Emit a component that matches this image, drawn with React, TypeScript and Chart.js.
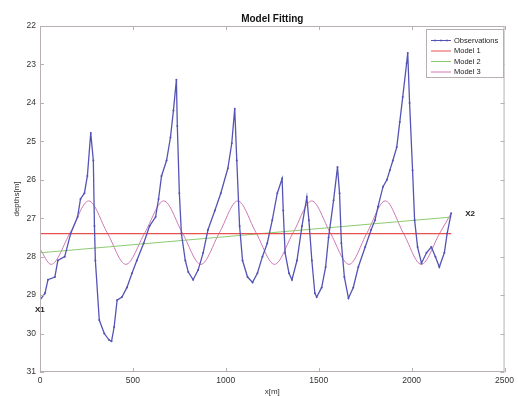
import React, { useEffect, useRef } from "react";
import { Chart, registerables } from "chart.js";

Chart.register(...registerables);

// ---- Data ----
const obsX = [0, 27, 43, 80, 96, 133, 165, 202, 218, 239, 255, 273, 287, 293, 298, 319, 346, 372, 385, 399, 415, 441, 468, 495, 521, 558, 590, 622, 638, 654, 681, 702, 718, 734, 739, 750, 761, 782, 798, 824, 851, 878, 904, 941, 973, 1011, 1032, 1048, 1059, 1074, 1090, 1117, 1144, 1170, 1197, 1223, 1250, 1277, 1303, 1309, 1319, 1340, 1356, 1383, 1410, 1436, 1447, 1463, 1479, 1489, 1516, 1537, 1553, 1580, 1601, 1612, 1622, 1638, 1660, 1686, 1713, 1750, 1782, 1803, 1819, 1846, 1867, 1883, 1899, 1920, 1936, 1952, 1973, 1979, 1989, 2005, 2016, 2032, 2053, 2080, 2106, 2128, 2149, 2176, 2191, 2213];
const obsY = [29.13, 28.95, 28.6, 28.53, 28.1, 28.0, 27.4, 26.97, 26.5, 26.35, 25.9, 24.78, 25.5, 27.2, 28.1, 29.65, 30.0, 30.17, 30.2, 29.83, 29.13, 29.05, 28.8, 28.43, 28.1, 27.65, 27.2, 26.97, 26.5, 25.9, 25.5, 24.9, 24.2, 23.4, 24.6, 26.35, 27.4, 28.1, 28.4, 28.6, 28.35, 27.9, 27.3, 26.8, 26.35, 25.7, 25.05, 24.15, 25.5, 27.2, 28.1, 28.53, 28.67, 28.43, 28.0, 27.65, 27.05, 26.35, 25.97, 26.8, 27.9, 28.43, 28.6, 28.1, 27.2, 26.45, 27.05, 28.1, 28.95, 29.05, 28.8, 28.27, 27.5, 26.53, 25.67, 26.35, 27.65, 28.53, 29.08, 28.8, 28.27, 27.75, 27.3, 27.05, 26.7, 26.18, 26.0, 25.75, 25.5, 25.15, 24.5, 23.85, 22.97, 22.7, 24.0, 25.75, 27.05, 27.75, 28.17, 27.9, 27.75, 28.0, 28.27, 27.9, 27.4, 26.87];

const model1X = [0, 2213];
const model1Y = [27.4, 27.4];

const model2X = [0, 2213];
const model2Y = [27.9, 26.97];

const model3X = [0, 60, 162, 262, 362, 462, 564, 666, 766, 866, 965, 1064, 1163, 1262, 1362, 1462, 1562, 1663, 1760, 1858, 1955, 2052, 2150, 2213];
const model3Y = [27.8, 28.2, 27.38, 26.55, 27.38, 28.2, 27.38, 26.55, 27.38, 28.2, 27.38, 26.55, 27.38, 28.2, 27.38, 26.55, 27.38, 28.2, 27.38, 26.55, 27.38, 28.2, 27.4, 26.87];

const seriesNames = ["Observations", "Model 1", "Model 2", "Model 3"];
const xTicks = [0, 500, 1000, 1500, 2000, 2500];
const yTicks = [22, 23, 24, 25, 26, 27, 28, 29, 30, 31];

const markerLabels = ["X1", "X2"];
const markerX = [0, 2213];
const markerY = [29.13, 26.87];

const chartTitle = "Model Fitting";
const xTitle = "x[m]";
const yTitle = "depths[m]";

const toPts = (xs: number[], ys: number[]) => xs.map((x, i) => ({ x, y: ys[i] }));

const FONT = "'Liberation Sans', Arial, sans-serif";

const decorPlugin = {
  id: "decor",
  afterDraw(chart: any) {
    const { ctx, chartArea, scales } = chart;
    const { left, right, top, bottom } = chartArea;
    ctx.save();
    // box
    ctx.strokeStyle = "#b8b0b0";
    ctx.lineWidth = 1;
    ctx.strokeRect(left + 0.5, top + 0.5, right - left - 1, bottom - top - 1);
    // inward ticks
    const tl = 4;
    ctx.beginPath();
    xTicks.forEach((v) => {
      const px = Math.round(scales.x.getPixelForValue(v)) + 0.5;
      ctx.moveTo(px, bottom);
      ctx.lineTo(px, bottom - tl);
      ctx.moveTo(px, top);
      ctx.lineTo(px, top + tl);
    });
    yTicks.forEach((v) => {
      const py = Math.round(scales.y.getPixelForValue(v)) + 0.5;
      ctx.moveTo(left, py);
      ctx.lineTo(left + tl, py);
      ctx.moveTo(right, py);
      ctx.lineTo(right - tl, py);
    });
    ctx.stroke();

    // title
    ctx.fillStyle = "#111";
    ctx.font = `bold 10px ${FONT}`;
    ctx.textAlign = "center";
    ctx.textBaseline = "middle";
    ctx.fillText(chartTitle, (left + right) / 2, 19);

    // axis titles
    ctx.font = `8px ${FONT}`;
    ctx.fillStyle = "#333";
    ctx.fillText(xTitle, (left + right) / 2, 392);
    ctx.save();
    ctx.translate(17, (top + bottom) / 2);
    ctx.rotate(-Math.PI / 2);
    ctx.fillText(yTitle, 0, 0);
    ctx.restore();

    // point labels
    ctx.font = `bold 8px ${FONT}`;
    ctx.fillStyle = "#222";
    markerLabels.forEach((t, i) => {
      const px = scales.x.getPixelForValue(markerX[i]);
      const py = scales.y.getPixelForValue(markerY[i]);
      ctx.textAlign = "left";
      if (i === 0) {
        ctx.fillText(t, px - 5, py + 10);
      } else {
        ctx.fillText(t, px + 14, py + 1);
      }
    });

    // legend
    const lx = 426, ly = 29, lw = 77, lh = 48;
    ctx.fillStyle = "#fff";
    ctx.fillRect(lx, ly, lw, lh);
    ctx.strokeStyle = "#b8b0b0";
    ctx.strokeRect(lx + 0.5, ly + 0.5, lw, lh);
    ctx.font = `7.5px ${FONT}`;
    ctx.textAlign = "left";
    chart.data.datasets.forEach((ds: any, i: number) => {
      const y = ly + 11 + i * 10.5;
      ctx.strokeStyle = ds.borderColor;
      ctx.lineWidth = 1;
      ctx.beginPath();
      ctx.moveTo(lx + 5, y + 0.5);
      ctx.lineTo(lx + 25, y + 0.5);
      ctx.stroke();
      if (i === 0) {
        ctx.fillStyle = ds.borderColor;
        [lx + 9, lx + 15, lx + 21].forEach((mx) => {
          ctx.beginPath();
          ctx.arc(mx, y + 0.5, 0.9, 0, Math.PI * 2);
          ctx.fill();
        });
      }
      ctx.fillStyle = "#222";
      ctx.fillText(ds.label, lx + 28, y + 0.5);
    });
    ctx.restore();
  },
};

export default function App() {
  const ref = useRef<HTMLCanvasElement | null>(null);
  useEffect(() => {
    if (!ref.current) return;
    const chart = new Chart(ref.current, {
      type: "line",
      data: {
        datasets: [
          {
            label: seriesNames[0],
            data: toPts(obsX, obsY),
            borderColor: "#5454b4",
            backgroundColor: "#5454b4",
            borderWidth: 1.3,
            pointRadius: 1,
            pointBorderWidth: 0,
            tension: 0,
          },
          {
            label: seriesNames[1],
            data: toPts(model1X, model1Y),
            borderColor: "#e85050",
            borderWidth: 1.2,
            pointRadius: 0,
          },
          {
            label: seriesNames[2],
            data: toPts(model2X, model2Y),
            borderColor: "#8ccb72",
            borderWidth: 1,
            pointRadius: 0,
          },
          {
            label: seriesNames[3],
            data: toPts(model3X, model3Y),
            borderColor: "#cc78b4",
            borderWidth: 1,
            pointRadius: 0,
            cubicInterpolationMode: "monotone",
            tension: 0.4,
          },
        ],
      },
      options: {
        animation: false,
        responsive: false,
        devicePixelRatio: 1,
        events: [],
        layout: { padding: { left: 0, right: 8, top: 26, bottom: 0 } },
        plugins: {
          legend: { display: false },
          title: { display: false },
          tooltip: { enabled: false },
        },
        scales: {
          x: {
            type: "linear",
            min: 0,
            max: 2500,
            afterBuildTicks: (s: any) => {
              s.ticks = xTicks.map((v) => ({ value: v }));
            },
            afterFit: (s: any) => {
              s.height = 24;
            },
            grid: { display: false, drawTicks: false },
            border: { display: false },
            ticks: {
              padding: 4,
              color: "#333",
              font: { family: FONT, size: 8.5 },
              maxRotation: 0,
              callback: (v: any) => String(v),
            },
          },
          y: {
            type: "linear",
            reverse: true,
            min: 22,
            max: 31,
            afterBuildTicks: (s: any) => {
              s.ticks = yTicks.map((v) => ({ value: v }));
            },
            afterFit: (s: any) => {
              s.width = 40;
            },
            grid: { display: false, drawTicks: false },
            border: { display: false },
            ticks: {
              padding: 4,
              color: "#333",
              font: { family: FONT, size: 8.5 },
              callback: (v: any) => String(v),
            },
          },
        },
      },
      plugins: [decorPlugin],
    } as any);
    return () => chart.destroy();
  }, []);
  return (
    <div style={{ position: "fixed", left: 0, top: 0, width: 518, height: 396, background: "#fff" }}>
      <canvas ref={ref} width={518} height={396} style={{ display: "block", width: 518, height: 396 }} />
    </div>
  );
}
